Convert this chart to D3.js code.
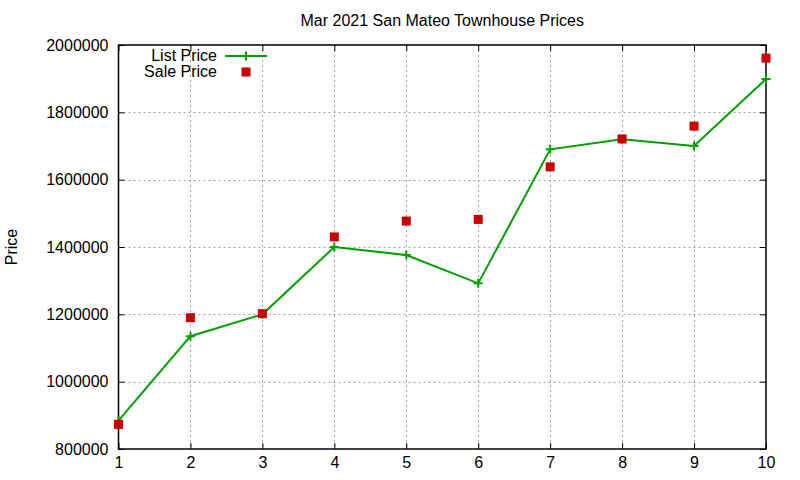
<!DOCTYPE html>
<html>
<head>
<meta charset="utf-8">
<script src="https://cdn.jsdelivr.net/npm/d3@7"></script>
<style>
  body { margin: 0; background: #fff; }
  text { font-family: "Liberation Sans", Arial, sans-serif; fill: #000; }
</style>
</head>
<body>
<div id="chart"></div>
<script>
// data
var houses = [1, 2, 3, 4, 5, 6, 7, 8, 9, 10];
var listPrice = [884000, 1135000, 1200000, 1400000, 1376000, 1292000, 1690000, 1720000, 1700000, 1899000];
var salePrice = [873000, 1190000, 1202000, 1430000, 1477000, 1482000, 1638000, 1721000, 1759000, 1961000];
var yTicks = [800000, 1000000, 1200000, 1400000, 1600000, 1800000, 2000000];

var width = 800, height = 480;
var margin = { top: 45, right: 34, bottom: 31, left: 118.5 };
var fontSize = "16px";

var svg = d3.select("#chart")
    .append("svg")
    .attr("width", width)
    .attr("height", height);

var x = d3.scaleLinear()
    .domain([1, 10])
    .range([margin.left, width - margin.right]);

var y = d3.scaleLinear()
    .domain([800000, 2000000])
    .range([height - margin.bottom, margin.top]);

// grid
var grid = svg.append("g")
    .attr("stroke", "#a0a0a0")
    .attr("stroke-width", 1)
    .attr("stroke-dasharray", "2,3");
grid.selectAll(".vgrid")
    .data(houses.slice(1, -1))
    .enter().append("line")
    .attr("x1", function(d) { return Math.round(x(d)) + 0.5; })
    .attr("x2", function(d) { return Math.round(x(d)) + 0.5; })
    .attr("y1", margin.top)
    .attr("y2", height - margin.bottom);
grid.selectAll(".hgrid")
    .data(yTicks.slice(1, -1))
    .enter().append("line")
    .attr("y1", function(d) { return Math.round(y(d)) + 0.5; })
    .attr("y2", function(d) { return Math.round(y(d)) + 0.5; })
    .attr("x1", margin.left)
    .attr("x2", width - margin.right);

// axes, ticks inward and mirrored
var tickLen = 6;
svg.append("g")
    .attr("transform", "translate(0," + (height - margin.bottom) + ")")
    .call(d3.axisBottom(x).tickValues(houses).tickSizeInner(-tickLen).tickSizeOuter(0).tickPadding(8))
    .call(function(g) { g.select(".domain").remove(); })
    .selectAll("text").style("font-size", fontSize);
svg.append("g")
    .attr("transform", "translate(0," + margin.top + ")")
    .call(d3.axisTop(x).tickValues(houses).tickSizeInner(-tickLen).tickSizeOuter(0).tickFormat(""))
    .call(function(g) { g.select(".domain").remove(); });
svg.append("g")
    .attr("transform", "translate(" + margin.left + ",0)")
    .call(d3.axisLeft(y).tickValues(yTicks).tickSizeInner(-tickLen).tickSizeOuter(0).tickPadding(10).tickFormat(d3.format("d")))
    .call(function(g) { g.select(".domain").remove(); })
    .selectAll("text").style("font-size", fontSize);
svg.append("g")
    .attr("transform", "translate(" + (width - margin.right) + ",0)")
    .call(d3.axisRight(y).tickValues(yTicks).tickSizeInner(-tickLen).tickSizeOuter(0).tickFormat(""))
    .call(function(g) { g.select(".domain").remove(); });
svg.selectAll(".tick line").attr("stroke", "#000");

svg.append("rect")
    .attr("x", margin.left)
    .attr("y", margin.top)
    .attr("width", width - margin.left - margin.right)
    .attr("height", height - margin.top - margin.bottom)
    .attr("fill", "none")
    .attr("stroke", "#000")
    .attr("stroke-width", 1.5);

// title and label
svg.append("text")
    .attr("x", (margin.left + width - margin.right) / 2)
    .attr("y", 26)
    .attr("text-anchor", "middle")
    .style("font-size", fontSize)
    .text("Mar 2021 San Mateo Townhouse Prices");
svg.append("text")
    .attr("transform", "translate(17," + (margin.top + height - margin.bottom) / 2 + ") rotate(-90)")
    .attr("text-anchor", "middle")
    .style("font-size", fontSize)
    .text("Price");

var green = "#00a000", red = "#cc0000";

// list price line
var line = d3.line()
    .x(function(d, i) { return x(houses[i]); })
    .y(function(d) { return y(d); });
svg.append("path")
    .datum(listPrice)
    .attr("d", line)
    .attr("fill", "none")
    .attr("stroke", green)
    .attr("stroke-width", 2);

function plus(g, cx, cy) {
    g.append("path")
        .attr("d", "M" + (cx - 4.5) + "," + cy + "H" + (cx + 4.5) + "M" + cx + "," + (cy - 4.5) + "V" + (cy + 4.5))
        .attr("stroke", green)
        .attr("stroke-width", 2);
}
var plusG = svg.append("g");
listPrice.forEach(function(d, i) { plus(plusG, x(houses[i]), y(d)); });

// sale price points
svg.selectAll(".sale")
    .data(salePrice)
    .enter().append("rect")
    .attr("class", "sale")
    .attr("x", function(d, i) { return x(houses[i]) - 4.5; })
    .attr("y", function(d) { return y(d) - 4.5; })
    .attr("width", 9)
    .attr("height", 9)
    .attr("fill", red);

// legend
var legend = svg.append("g");
legend.append("text")
    .attr("x", 217).attr("y", 61)
    .attr("text-anchor", "end")
    .style("font-size", fontSize)
    .text("List Price");
legend.append("line")
    .attr("x1", 225).attr("x2", 267)
    .attr("y1", 56).attr("y2", 56)
    .attr("stroke", green).attr("stroke-width", 2);
plus(legend, 246, 56);
legend.append("text")
    .attr("x", 217).attr("y", 77)
    .attr("text-anchor", "end")
    .style("font-size", fontSize)
    .text("Sale Price");
legend.append("rect")
    .attr("x", 241.5).attr("y", 67.5)
    .attr("width", 9).attr("height", 9)
    .attr("fill", red);
</script>
</body>
</html>
